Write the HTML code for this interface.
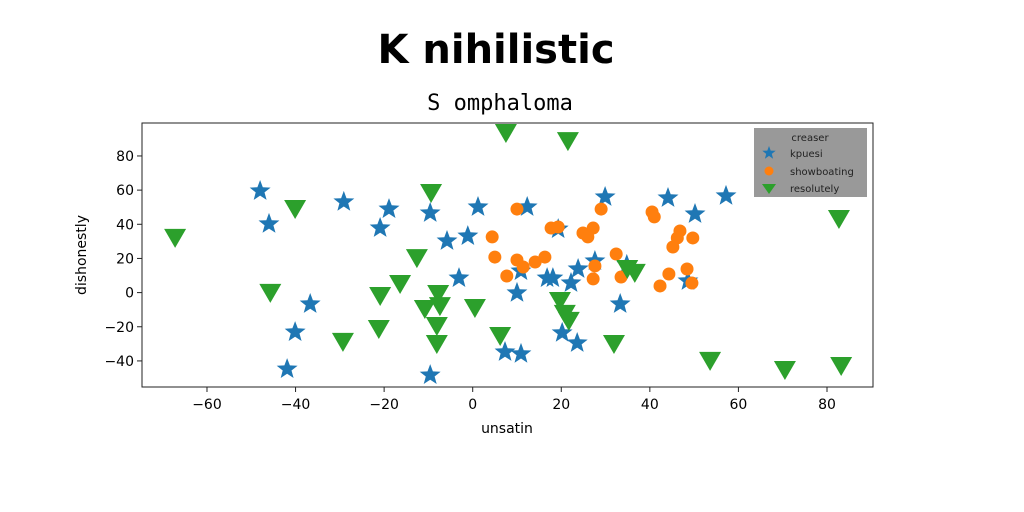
<!DOCTYPE html>
<html><head><meta charset="utf-8"><style>
body{margin:0;background:#fff;}
svg{display:block;}
text{font-family:"DejaVu Sans","Liberation Sans",sans-serif;}
</style></head><body>
<svg id="chart" width="1024" height="512" xmlns="http://www.w3.org/2000/svg">
<rect width="1024" height="512" fill="#fff"/>
<text x="496" y="63" text-anchor="middle" style="font-family:'Comic Sans MS','DejaVu Sans',sans-serif;font-weight:bold;font-size:40px">K nihilistic</text>
<text x="500" y="110" text-anchor="middle" style="font-family:'DejaVu Sans Mono','Liberation Mono',monospace;font-size:22px">S omphaloma</text>
<rect x="142" y="123" width="731" height="264" fill="none" stroke="#222" stroke-width="1"/>
<g id="xticks"></g><g id="yticks"></g><g id="marks"></g>
<text x="507" y="433" text-anchor="middle" font-size="14">unsatin</text>
<text transform="translate(86,255) rotate(-90)" text-anchor="middle" font-size="14">dishonestly</text>
<g>
<rect x="754" y="128" width="113" height="69" fill="#999"/>
<text x="810" y="141" text-anchor="middle" font-size="10" fill="#222">creaser</text>
<path d="" id="lg1" fill="#1f77b4"/>
<text x="790" y="157" font-size="10" fill="#222">kpuesi</text>
<circle cx="769" cy="171" r="4.5" fill="#ff7f0e"/>
<text x="790" y="175" font-size="10" fill="#222">showboating</text>
<path d="M762,184 L776,184 L769,194 Z" fill="#2ca02c"/>
<text x="790" y="192" font-size="10" fill="#222">resolutely</text>
</g>
</svg>
<script>
const xTicks=[-60,-40,-20,0,20,40,60,80];
const yTicks=[-40,-20,0,20,40,60,80];
const kpuesiX=[-48,-46,-29.1,-18.9,-9.6,1.2,12.3,-5.8,-1.1,-20.9,-36.7,-40.1,-41.9,-9.6,-3.1,10,7.3,10.9,16.8,18.1,19.3,20.2,22.2,23.8,29.9,44.1,50.2,57.2,23.6,33.3,34.8,48.6,10.9,27.6];
const kpuesiY=[59.5,40.2,53.1,48.9,46.6,50.1,50.1,30.2,33.1,37.8,-6.7,-23.1,-44.8,-48.3,8.5,-0.2,-34.8,-35.9,8.5,8.5,37.2,-23.6,5.6,13.8,56,55.4,46,56.6,-29.5,-6.7,16.2,6.8,12.6,18.5];
const showX=[10,29,40.5,41,17.7,19.3,24.9,27.2,26,46.8,46.2,45.2,49.7,4.4,5,10,11.4,14.1,16.3,7.7,32.4,27.6,27.2,33.5,44.3,42.3,48.4,49.5];
const showY=[48.9,48.9,47.2,44.3,37.8,38.4,34.9,37.8,32.6,36.1,32,26.7,32,32.6,20.8,19.1,15,17.9,20.8,9.7,22.6,15.6,8,9.1,10.9,3.9,13.8,5.6];
const resX=[-67.2,-40.1,-9.4,-45.7,-12.6,-16.4,-20.9,-7.8,-10.8,-7.4,-8.1,0.5,-21.2,-29.3,-8.1,6.2,7.5,21.5,82.7,34.9,36.6,19.7,20.8,21.7,31.9,53.6,70.5,83.2];
const resY=[32.6,49.5,58.9,0.4,20.8,5.6,-1.4,-0.2,-9,-7.3,-19,-8.4,-20.7,-28.3,-29.5,-24.8,94,89.3,43.7,14.4,12.1,-4.3,-11.9,-16,-29.5,-39.4,-44.7,-42.4];
const NS="http://www.w3.org/2000/svg";
const sx=v=>472.7+v*4.4286, sy=v=>292.6-v*1.708;
function mk(t,a,p){const e=document.createElementNS(NS,t);for(const k in a)e.setAttribute(k,a[k]);p.appendChild(e);return e;}
function star(cx,cy,R){const r=R*0.42;let d="";for(let i=0;i<10;i++){const a=-Math.PI/2+i*Math.PI/5,rr=i%2?r:R;d+=(i?"L":"M")+(cx+rr*Math.cos(a)).toFixed(1)+","+(cy+rr*Math.sin(a)).toFixed(1);}return d+"Z";}
document.getElementById('lg1').setAttribute('d',star(769,153,7));
const xt=document.getElementById('xticks'),yt=document.getElementById('yticks'),mg=document.getElementById('marks');
xTicks.forEach(v=>{const x=sx(v);mk('line',{x1:x,x2:x,y1:387,y2:392,stroke:'#222'},xt);
const t=mk('text',{x:x,y:409,'text-anchor':'middle','font-size':14},xt);t.textContent=(v<0?'\u2212'+(-v):v);

});
yTicks.forEach(v=>{const y=sy(v);mk('line',{x1:137,x2:142,y1:y,y2:y,stroke:'#222'},yt);
const t=mk('text',{x:134,y:y+5,'text-anchor':'end','font-size':14},yt);t.textContent=(v<0?'\u2212'+(-v):v);

});
kpuesiX.forEach((v,i)=>{const e=mk('path',{d:star(sx(v),sy(kpuesiY[i]),11),fill:'#1f77b4'},mg);

});
showX.forEach((v,i)=>{const e=mk('circle',{cx:sx(v),cy:sy(showY[i]),r:6.5,fill:'#ff7f0e'},mg);

});
resX.forEach((v,i)=>{const x=sx(v),y=sy(resY[i]);const e=mk('path',{d:`M${x-11},${y-8} L${x+11},${y-8} L${x},${y+11} Z`,fill:'#2ca02c'},mg);

});
</script>
</body></html>
